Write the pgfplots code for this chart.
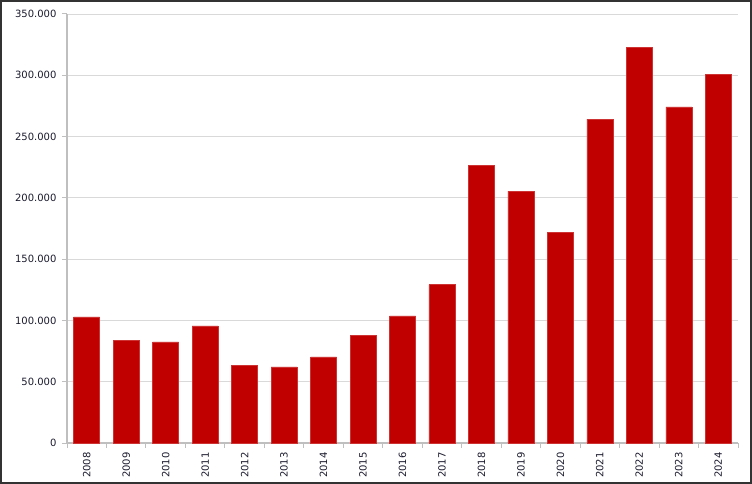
\documentclass[border=0pt]{standalone}
\usepackage{pgfplots}
\pgfplotsset{compat=1.18}
\usepackage{fontspec}
\setmainfont{DejaVu Sans}
\usetikzlibrary{calc}
\definecolor{barred}{HTML}{C00000}
\definecolor{gridc}{HTML}{D9D9D9}
\definecolor{axc}{HTML}{BFBFBF}
\definecolor{txt}{HTML}{1A1A2E}
\begin{document}
\begin{tikzpicture}[x=1bp,y=1bp]
\begin{axis}[
  name=ax,
  at={(0,0)}, anchor=south west,
  scale only axis,
  width=671bp, height=429bp,
  xmin=-0.5, xmax=16.5,
  ymin=0, ymax=350000,
  scaled y ticks=false,
  ytick={0,50000,100000,150000,200000,250000,300000,350000},
  yticklabels={0,50.000,100.000,150.000,200.000,250.000,300.000,350.000},
  xtick={0,...,16},
  xticklabels={2008,2009,2010,2011,2012,2013,2014,2015,2016,2017,2018,2019,2020,2021,2022,2023,2024},
  xticklabel style={rotate=90, anchor=east, font=\fontsize{10bp}{12bp}\selectfont, text=txt},
  yticklabel style={font=\fontsize{10bp}{12bp}\selectfont, text=txt},
  minor xtick={-0.5,0.5,...,16.5},
  x tick style={draw=none},
  minor x tick style={draw=axc, line width=1bp},
  minor tick length=5bp,
  y tick style={draw=axc, line width=1bp},
  major tick length=5bp,
  tick align=outside,
  axis x line*=bottom,
  axis y line*=left,
  axis line style={draw=axc, line width=1.5bp},
  ymajorgrids,
  grid style={draw=gridc, line width=0.8bp},
  xticklabel shift=1bp,
  yticklabel shift=2bp,
  ybar, bar width=26bp,
  clip=false,
]
\addplot[fill=barred, draw=barred!80!white, line width=0.5bp] coordinates {
(0,103000) (1,84000) (2,82500) (3,95500) (4,63600) (5,62200) (6,70200) (7,88000)
(8,103800) (9,129200) (10,226800) (11,205400) (12,172000) (13,264300) (14,322600)
(15,274300) (16,300800)
};
\end{axis}
\draw[draw=black!80, line width=2bp] ($(ax.south west)+(-66bp,-40bp)$) rectangle ($(ax.north east)+(13bp,13bp)$);
\end{tikzpicture}
\end{document}
